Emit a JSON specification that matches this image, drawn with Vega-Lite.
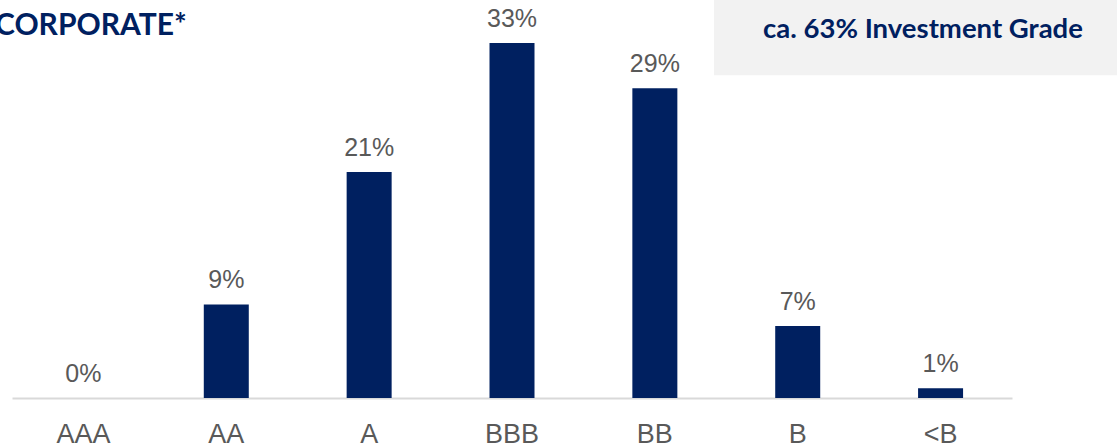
{
  "$schema": "https://vega.github.io/schema/vega-lite/v6.json",
  "width": 1000,
  "height": 398,
  "autosize": {"type": "none"},
  "padding": {"left": 12, "top": 0, "right": 105, "bottom": 49},
  "background": "white",
  "config": {"view": {"stroke": null}},
  "title": {
    "text": "CORPORATE*",
    "anchor": "start",
    "frame": "group",
    "orient": "top",
    "offset": -35,
    "dx": -17,
    "dy": 30,
    "baseline": "alphabetic",
    "font": "Lato",
    "fontSize": 30,
    "fontWeight": "bold",
    "color": "#002060"
  },
  "datasets": {
    "bars": [
      {"rating": "AAA", "share": 0.0},
      {"rating": "AA", "share": 0.087},
      {"rating": "A", "share": 0.21},
      {"rating": "BBB", "share": 0.33},
      {"rating": "BB", "share": 0.288},
      {"rating": "B", "share": 0.067},
      {"rating": "<B", "share": 0.009}
    ],
    "note": [
      {"x0": 702, "x1": 1105, "y0": 0.300, "y1": 0.370, "xm": 911, "ym": 0.3425, "label": "ca. 63% Investment Grade"}
    ]
  },
  "layer": [
    {
      "data": {"name": "bars"},
      "mark": {"type": "bar", "color": "#002060"},
      "encoding": {
        "x": {
          "field": "rating", "type": "nominal", "sort": null,
          "scale": {"paddingInner": 0.685, "paddingOuter": 0.3425},
          "axis": {
            "title": null, "labelAngle": 0, "ticks": false,
            "domainColor": "#d9d9d9", "domainWidth": 2,
            "labelFont": "Liberation Sans", "labelFontSize": 27,
            "labelColor": "#595959", "labelPadding": 44, "labelBaseline": "alphabetic"
          }
        },
        "y": {
          "field": "share", "type": "quantitative",
          "scale": {"domain": [0, 0.37], "nice": false, "zero": true},
          "axis": null
        }
      }
    },
    {
      "data": {"name": "bars"},
      "mark": {"type": "text", "font": "Liberation Sans", "fontSize": 25, "color": "#595959", "baseline": "alphabetic", "dy": -16},
      "encoding": {
        "x": {"field": "rating", "type": "nominal", "sort": null, "scale": {"paddingInner": 0.685, "paddingOuter": 0.3425}, "axis": null},
        "y": {"field": "share", "type": "quantitative"},
        "text": {"field": "share", "type": "quantitative", "format": ".0%"}
      }
    },
    {
      "data": {"name": "note"},
      "mark": {"type": "rect", "color": "#f2f2f2"},
      "encoding": {
        "x": {"field": "x0", "type": "quantitative", "scale": {"domain": [0, 1000], "nice": false}, "axis": null},
        "x2": {"field": "x1"},
        "y": {"field": "y0", "type": "quantitative"},
        "y2": {"field": "y1"}
      }
    },
    {
      "data": {"name": "note"},
      "mark": {"type": "text", "font": "Lato", "fontSize": 27.5, "fontWeight": "bold", "color": "#002060", "align": "center", "baseline": "middle"},
      "encoding": {
        "x": {"field": "xm", "type": "quantitative", "scale": {"domain": [0, 1000], "nice": false}, "axis": null},
        "y": {"field": "ym", "type": "quantitative"},
        "text": {"field": "label"}
      }
    }
  ],
  "resolve": {"scale": {"x": "independent"}}
}
